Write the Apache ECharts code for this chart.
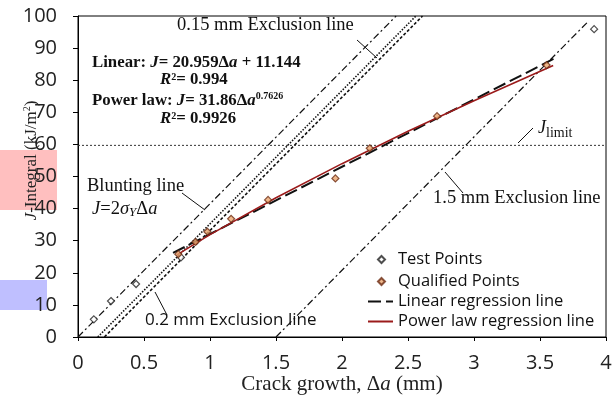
<!DOCTYPE html>
<html><head><meta charset="utf-8">
<script src="https://cdn.jsdelivr.net/npm/echarts@6/dist/echarts.min.js"></script>
<style>html,body{margin:0;padding:0;background:#fff}#c{width:614px;height:398px}</style>
</head><body><div id="c"></div>
<script>
// ---- data ----
const testX = [0.12, 0.25, 0.44, 0.78, 3.91];
const testJ = [5.5, 11.2, 16.5, 24.8, 95.9];
const qualX = [0.76, 0.89, 0.98, 1.16, 1.44, 1.95, 2.21, 2.72, 3.55];
const qualJ = [25.8, 29.6, 32.8, 36.8, 42.7, 49.4, 58.8, 68.8, 84.7];
const linX = [0.72, 3.63];
const linJ = [26.2, 87.2];
const powX = [0.75, 1.0, 1.5, 2.0, 2.5, 3.0, 3.6];
const powJ = [25.6, 31.9, 43.4, 54.0, 64.1, 73.6, 84.6];
const bluntX = [0, 2.41];
const bluntJ = [0, 100];
const ex015X = [0.15, 2.56];
const ex015J = [0, 100];
const ex02X = [0.2, 2.61];
const ex02J = [0, 100];
const ex15X = [1.5, 3.87];
const ex15J = [0, 98.5];
const limX = [0, 4];
const limJ = [59.7, 59.7];
const xTicks = [0, 0.5, 1, 1.5, 2, 2.5, 3, 3.5, 4];
const yTicks = [0, 10, 20, 30, 40, 50, 60, 70, 80, 90, 100];

const pairs = (xs, ys) => xs.map((x, i) => [x, ys[i]]);
const SERIF = '"Liberation Serif","Times New Roman",serif';
const SANS = '"Open Sans","Noto Sans",sans-serif';

const chart = echarts.init(document.getElementById('c'), null, {renderer: 'canvas'});

function lineSeries(name, xs, ys, color, width, type) {
  return {name, type: 'line', data: pairs(xs, ys), symbol: 'none', silent: true,
    itemStyle: {color}, lineStyle: {color, width, type}, z: 2, animation: false};
}

const legendBase = {orient: 'vertical', itemGap: 0, selectedMode: false, padding: 0,
  textStyle: {fontFamily: SANS, fontSize: 16.5, color: '#111'}};

const rich = (size, bold) => ({
  n: {fontFamily: SERIF, fontSize: size, fontWeight: bold ? 'bold' : 'normal', fill: '#111', color: '#111'},
  i: {fontFamily: SERIF, fontSize: size, fontWeight: bold ? 'bold' : 'normal', fontStyle: 'italic', fill: '#111', color: '#111'},
  sup: {fontFamily: SERIF, fontSize: Math.round(size * 0.62), fontWeight: bold ? 'bold' : 'normal', fill: '#111', color: '#111', padding: [0, 0, 10, 0]},
  sub: {fontFamily: SERIF, fontSize: Math.round(size * 0.7), fontStyle: 'italic', fill: '#111', color: '#111', padding: [8, 0, 0, 0]},
  subn: {fontFamily: SERIF, fontSize: Math.round(size * 0.75), fill: '#111', color: '#111', padding: [10, 0, 0, 0]}
});

function txt(x, y, text, size, bold, family) {
  return {type: 'text', x, y, silent: true,
    style: {text, fontFamily: family || SERIF, fontSize: size, fontWeight: bold ? 'bold' : 'normal',
      fill: '#111', verticalAlign: 'middle', align: 'left', rich: rich(size, bold)}};
}
function lead(x1, y1, x2, y2, c) {
  return {type: 'line', silent: true, shape: {x1, y1, x2, y2}, style: {stroke: c || '#111', lineWidth: 1}};
}

chart.setOption({
  animation: false,
  backgroundColor: '#fff',
  grid: {left: 78, right: 8, top: 16, bottom: 61, show: true, borderColor: '#000', borderWidth: 1,
    outerBoundsMode: 'none', containLabel: false},
  xAxis: {type: 'value', min: 0, max: 4, interval: 0.5,
    axisLine: {lineStyle: {color: '#000'}}, axisTick: {show: true, length: 4, lineStyle: {color: '#000'}},
    splitLine: {show: false},
    axisLabel: {fontFamily: SANS, fontSize: 20, color: '#222', margin: 16,
      formatter: v => xTicks.includes(v) ? String(v) : ''},
    name: 'Crack growth, Δ{i|a} (mm)', nameLocation: 'middle', nameGap: 37, nameMoveOverlap: false,
    nameTextStyle: {fontFamily: SERIF, fontSize: 21, color: '#222',
      rich: {i: {fontFamily: SERIF, fontSize: 21, fontStyle: 'italic', color: '#222'}}}},
  yAxis: {type: 'value', min: 0, max: 100, interval: 10,
    axisLine: {show: true, lineStyle: {color: '#000'}}, axisTick: {show: true, length: 5, lineStyle: {color: '#000'}},
    splitLine: {show: false},
    axisLabel: {fontFamily: SANS, fontSize: 20, color: '#222', margin: 21,
      formatter: v => yTicks.includes(v) ? String(v) : ''},
    name: '{i|J}-Integral (kJ/m{s|2})', nameLocation: 'middle', nameGap: 37, nameMoveOverlap: false,
    nameTextStyle: {fontFamily: SERIF, fontSize: 17, color: '#222', padding: [0, 0, 0, 32],
      rich: {i: {fontFamily: SERIF, fontSize: 17, fontStyle: 'italic', color: '#222'},
             s: {fontFamily: SERIF, fontSize: 10, color: '#222', padding: [0, 0, 9, 0]}}}},
  legend: [
    Object.assign({}, legendBase, {data: ['Test Points'], left: 377, top: 251, itemWidth: 7, itemHeight: 7,
      textStyle: Object.assign({}, legendBase.textStyle, {padding: [0, 0, 0, 8]})}),
    Object.assign({}, legendBase, {data: ['Qualified Points'], left: 377, top: 273, itemWidth: 7, itemHeight: 7,
      textStyle: Object.assign({}, legendBase.textStyle, {padding: [0, 0, 0, 8]})}),
    Object.assign({}, legendBase, {data: ['Linear regression line'], left: 367, top: 293, itemWidth: 25, itemHeight: 10,
      itemStyle: {opacity: 0}}),
    Object.assign({}, legendBase, {data: ['Power law regression line'], left: 367, top: 313, itemWidth: 25, itemHeight: 10,
      itemStyle: {opacity: 0}})
  ],
  series: [
    lineSeries('Blunting line', bluntX, bluntJ, '#111', 1.2, [7, 3, 2, 3]),
    lineSeries('0.15 mm Exclusion line', ex015X, ex015J, '#111', 1.6, [1.5, 1.5]),
    lineSeries('0.2 mm Exclusion line', ex02X, ex02J, '#111', 1.6, [3, 2]),
    lineSeries('1.5 mm Exclusion line', ex15X, ex15J, '#111', 1.2, [7, 3, 2, 3]),
    lineSeries('J limit', limX, limJ, '#333', 1, [2, 2]),
    lineSeries('Linear regression line', linX, linJ, '#111', 2, [13, 5]),
    lineSeries('Power law regression line', powX, powJ, '#9b1b1b', 1.6, 'solid'),
    {name: 'Test Points', type: 'scatter', data: pairs(testX, testJ), symbol: 'diamond', symbolSize: 7,
      itemStyle: {color: '#fff', borderColor: '#222', borderWidth: 1.2}, z: 5},
    {name: 'Qualified Points', type: 'scatter', data: pairs(qualX, qualJ), symbol: 'diamond', symbolSize: 7,
      itemStyle: {color: '#eaa56e', borderColor: '#6b2a12', borderWidth: 1.2}, z: 6}
  ],
  graphic: [
    {type: 'rect', shape: {x: 0, y: 150, width: 57, height: 60}, style: {fill: 'rgba(255,0,0,0.25)'}, silent: true},
    {type: 'rect', shape: {x: 0, y: 280, width: 47, height: 30}, style: {fill: 'rgba(0,0,255,0.25)'}, silent: true},
    txt(177, 25, '0.15 mm Exclusion line', 18.5),
    lead(357, 40, 377, 58),
    txt(92, 63, '{n|Linear: }{i|J}{n|= 20.959Δ}{i|a}{n| + 11.144}', 16.8, true),
    txt(160, 80, '{i|R}{n|²= 0.994}', 16.8, true),
    txt(92, 101, '{n|Power law: }{i|J}{n|= 31.86Δ}{i|a}{sup|0.7626}', 16.8, true),
    txt(160, 119, '{i|R}{n|²= 0.9926}', 16.8, true),
    txt(87, 186, 'Blunting line', 18.5),
    txt(92, 209, '{i|J}{n|=2}{i|σ}{sub|Y}{n|Δ}{i|a}', 18.5),
    lead(182, 193, 205, 210),
    {type: 'text', x: 145, y: 320, silent: true,
      style: {text: '0.2 mm Exclusion line', fontFamily: SANS, fontSize: 17, fill: '#111', verticalAlign: 'middle'}},
    lead(155, 292, 167, 315),
    txt(433, 198, '1.5 mm Exclusion line', 18.5),
    lead(445, 172, 463, 193),
    txt(538, 128, '{i|J}{subn|limit}', 18),
    lead(518, 143, 533, 128)
  ]
});
</script>
</body></html>
